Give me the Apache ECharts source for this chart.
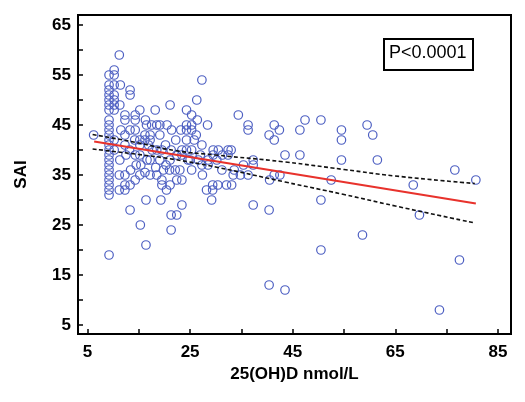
<!DOCTYPE html>
<html>
<head>
<meta charset="utf-8">
<script src="https://cdn.jsdelivr.net/npm/echarts@6/dist/echarts.min.js"></script>
<style>html,body{margin:0;padding:0;background:#fff;}#c{width:525px;height:402px;}</style>
</head>
<body>
<div id="c"></div>
<script>
// Scatter points: 25(OH)D (nmol/L) and SAI
const xValues = [6.2,
 9.2,9.2,9.2,9.2,9.2,9.2,9.2,9.2,9.2,9.2,9.2,9.2,9.2,9.2,9.2,9.2,9.2,9.2,9.2,9.2,9.2,9.2,9.2,9.2,
 10.2,10.2,10.2,10.2,10.2,10.2,10.2,10.2,10.2,
 11.2,11.4,11.3,11.2,11.2,11.5,11.3,
 12.3,12.3,12.3,12.3,12.3,12.3,12.3,12.5,
 13.3,13.3,13.3,13.3,13.3,13.4,13.2,
 14.3,14.3,14.3,14.3,14.3,14.2,14.5,
 15.2,15.2,15.2,15.2,15.2,15.3,15.4,
 16.3,16.5,16.2,16.2,16.9,16.4,16.4,16.6,16.2,
 17.5,17.2,17.2,17.2,17.2,17.6,
 18.2,18.5,18.5,18.5,18.3,
 19.1,19.1,19.5,19.1,19.5,19.5,19.3,19.8,
 20.5,20.4,20.2,20.3,
 21.1,21.4,21.1,21.1,21.3,21.3,21.0,21.3,
 22.4,22.4,22.4,22.1,22.2,
 23.4,23.4,23.4,23.4,23.0,23.2,
 24.3,24.3,24.3,24.3,24.3,24.6,
 25.3,25.3,25.3,25.3,25.0,25.3,25.8,
 26.3,26.4,26.6,26.2,
 27.3,27.3,27.3,27.4,27.0,
 28.5,28.5,28.2,28.4,
 29.5,29.4,29.4,29.2,29.5,
 30.5,30.4,30.2,
 31.2,31.3,
 32.4,32.4,32.1,
 33.1,33.4,33.0,33.6,
 34.4,34.8,
 35.4,
 36.3,36.3,36.3,
 37.3,37.3,37.3,
 40.4,40.5,40.4,40.4,
 41.4,41.4,41.4,
 42.4,42.5,
 43.5,43.5,
 46.4,46.4,
 47.4,
 50.5,50.5,50.5,
 52.5,
 54.5,54.5,54.5,
 58.6,59.5,60.6,61.5,
 68.5,69.7,73.6,76.6,77.5,80.7];
const yValues = [43,
 55,53,52,51,50,49,48,46,45,44,43,42,41,40,39,38,37,36,35,34,33,32,31,19,
 56,55,53,51,50,49,48,42,40,
 59,53,49,35,32,44,38,
 47,46,43,41,35,33,32,39,
 52,51,44,33,28,36,40,
 47,46,44,39,34,42,37,
 48,42,41,39,35,25,37,
 46,45,43,42,41,30,21,38,35.5,
 45,43,42,38,35,40,
 48,45,40,35,36.5,
 45,43,40,38,34,33,30,36,
 45,32,41,37,
 49,44,38,33,27,24,36,40,
 39,34,27,36,42,
 40,39,34,29,36,44,
 48,45,44,42,40,38,
 45,44,40,36,38,47,42,
 50,46,38,43,
 54,41,37,35,39,
 38,37,32,45,
 39,33,32,30,40,
 40,33,38,
 36,39,
 40,39,33,
 33,35,40,36,
 47,35,
 37,
 45,44,35,
 38,37,29,
 43,34,28,13,
 45,42,35,
 44,35,
 39,12,
 44,39,
 46,
 46,30,20,
 34,
 44,42,38,
 23,45,43,38,
 33,27,8,36,18,34];

// Regression line end points
const fitX = [6.3, 80.7];
const fitY = [41.7, 29.3];

// 95% confidence band points
const bandX = [6, 15, 22, 30, 43.5, 55, 65, 80.5];
const upperY = [43.1, 41.4, 39.9, 39.0, 37.6, 36.1, 34.8, 33.3];
const lowerY = [40.2, 39.1, 38.1, 36.6, 33.6, 31.1, 28.8, 25.4];

// Axis ticks / labels
const xTicks = [5, 15, 25, 35, 45, 55, 65, 75, 85];
const xLabels = [5, 25, 45, 65, 85];
const yTicks = [5, 10, 15, 20, 25, 30, 35, 40, 45, 50, 55, 60, 65];
const yLabels = [5, 15, 25, 35, 45, 55, 65];

const xName = '25(OH)D nmol/L';
const yName = 'SAI';
const pText = 'P<0.0001';

const FONT = '"Liberation Sans", Arial, sans-serif';
const pts = xValues.map((x, i) => [x, yValues[i]]);
const zip = (a, b) => a.map((v, i) => [v, b[i]]);

const chart = echarts.init(document.getElementById('c'), null, {renderer: 'canvas'});
chart.setOption({
  animation: false,
  backgroundColor: '#fff',
  grid: {left: 78, right: 14, top: 15, bottom: 68, show: true, borderColor: '#000', borderWidth: 2, backgroundColor: 'transparent'},
  xAxis: {
    type: 'value', min: 3.15, max: 87.55,
    name: xName, nameLocation: 'middle', nameGap: 32,
    nameTextStyle: {fontFamily: FONT, fontWeight: 'bold', fontSize: 17, color: '#000'},
    axisLine: {show: true, lineStyle: {color: '#000', width: 2}},
    axisTick: {show: true, inside: true, length: 5, customValues: xTicks, lineStyle: {color: '#000', width: 1.5}},
    axisLabel: {customValues: xLabels, fontFamily: FONT, fontWeight: 'bold', fontSize: 17, color: '#000', margin: 10},
    splitLine: {show: false}
  },
  yAxis: {
    type: 'value', min: 3.2, max: 67,
    name: yName, nameLocation: 'middle', nameGap: 48, nameRotate: 90,
    nameTextStyle: {fontFamily: FONT, fontWeight: 'bold', fontSize: 17, color: '#000'},
    axisLine: {show: true, lineStyle: {color: '#000', width: 2}},
    axisTick: {show: true, inside: true, length: 5, customValues: yTicks, lineStyle: {color: '#000', width: 1.5}},
    axisLabel: {customValues: yLabels, fontFamily: FONT, fontWeight: 'bold', fontSize: 17, color: '#000', margin: 7},
    splitLine: {show: false}
  },
  series: [
    {
      type: 'scatter', data: pts, symbol: 'circle', symbolSize: 8.5,
      itemStyle: {color: 'rgba(0,0,0,0)', borderColor: '#4d5fc2', borderWidth: 1.2, opacity: 1},
      z: 3
    },
    {
      type: 'line', data: zip(bandX, upperY), smooth: true, symbol: 'none',
      lineStyle: {color: '#111', width: 1.6, type: [4, 2.5]}, z: 4
    },
    {
      type: 'line', data: zip(bandX, lowerY), smooth: true, symbol: 'none',
      lineStyle: {color: '#111', width: 1.6, type: [4, 2.5]}, z: 4
    },
    {
      type: 'line', data: zip(fitX, fitY), symbol: 'none',
      lineStyle: {color: '#e8322c', width: 2.2}, z: 5
    }
  ],
  graphic: [
    {
      type: 'rect', left: 383, top: 38, shape: {width: 89, height: 31},
      style: {fill: '#fff', stroke: '#000', lineWidth: 2}, z: 10
    },
    {
      type: 'text', left: 389, top: 44,
      style: {text: pText, fontFamily: FONT, fontSize: 18, fill: '#000'}, z: 11
    }
  ]
});
</script>
</body>
</html>
